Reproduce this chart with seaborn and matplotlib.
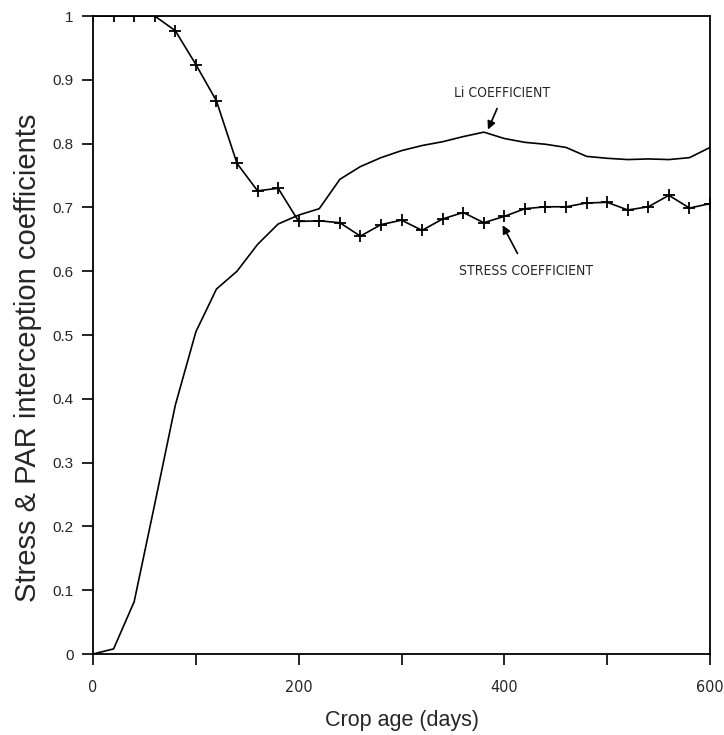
import matplotlib
matplotlib.use("Agg")
import matplotlib.pyplot as plt
import seaborn as sns

# crop age (days), sampled every 20 days
days = list(range(0, 601, 20))

# PAR interception (Li) coefficient
li_coef = [0.000, 0.008, 0.082, 0.235, 0.390, 0.505, 0.572, 0.600, 0.642, 0.674,
           0.688, 0.698, 0.744, 0.764, 0.778, 0.789, 0.797, 0.803, 0.811, 0.818,
           0.808, 0.802, 0.799, 0.794, 0.780, 0.777, 0.775, 0.776, 0.775, 0.778,
           0.794]

# stress coefficient
stress_coef = [1.000, 1.000, 1.000, 1.000, 0.977, 0.924, 0.867, 0.769, 0.726, 0.730,
               0.678, 0.679, 0.676, 0.655, 0.673, 0.680, 0.664, 0.682, 0.692, 0.676,
               0.686, 0.698, 0.701, 0.701, 0.707, 0.708, 0.696, 0.701, 0.719, 0.699,
               0.706]

x_ticks = [0, 100, 200, 300, 400, 500, 600]
x_labels = ["0", "", "200", "", "400", "", "600"]
y_ticks = [i / 10 for i in range(11)]
y_labels = ["0"] + [f"{v:.1f}" for v in y_ticks[1:-1]] + ["1"]

sns.set_style("ticks")
narrow = ["DejaVu Sans"]
plain = ["Liberation Sans", "DejaVu Sans"]

fig = plt.figure(figsize=(7.24, 7.35), dpi=100)
ax = fig.add_axes([0.1285, 0.1102, 0.8522, 0.8680])

sns.lineplot(x=days, y=li_coef, ax=ax, color="black", linewidth=1.2)
sns.lineplot(x=days, y=stress_coef, ax=ax, color="black", linewidth=1.2,
             marker="+", markersize=9, markeredgewidth=1.3, markeredgecolor="black")

ax.set_xlim(0, 600)
ax.set_ylim(0, 1)
ax.set_xticks(x_ticks)
ax.set_xticklabels(x_labels, fontfamily=narrow, fontstretch="condensed", fontsize=11.5)
ax.set_yticks(y_ticks)
ax.set_yticklabels(y_labels, fontfamily=plain, fontsize=11)
ax.tick_params(axis="both", direction="out", length=8, width=1.2, color="black")
ax.tick_params(axis="x", pad=11)
ax.tick_params(axis="y", pad=6)
for s in ax.spines.values():
    s.set_visible(True)
    s.set_linewidth(1.3)
    s.set_color("black")

ax.set_xlabel("Crop age (days)", fontfamily=plain, fontsize=15.5)
ax.set_ylabel("Stress & PAR interception coefficients", fontfamily=plain, fontsize=21)
ax.xaxis.set_label_coords(0.5, -0.088)
ax.yaxis.set_label_coords(-0.083, 0.465)

arrow = dict(arrowstyle="-|>", color="black", lw=1.2, mutation_scale=12)
ax.annotate("", xy=(383, 0.818), xytext=(394, 0.859), arrowprops=arrow)
ax.text(398, 0.879, "Li COEFFICIENT", ha="center", va="center",
        fontfamily=narrow, fontstretch="condensed", fontsize=10)
ax.annotate("", xy=(397, 0.676), xytext=(414, 0.624), arrowprops=arrow)
ax.text(421, 0.600, "STRESS COEFFICIENT", ha="center", va="center",
        fontfamily=narrow, fontstretch="condensed", fontsize=10)

fig.savefig("out.png", dpi=100)
